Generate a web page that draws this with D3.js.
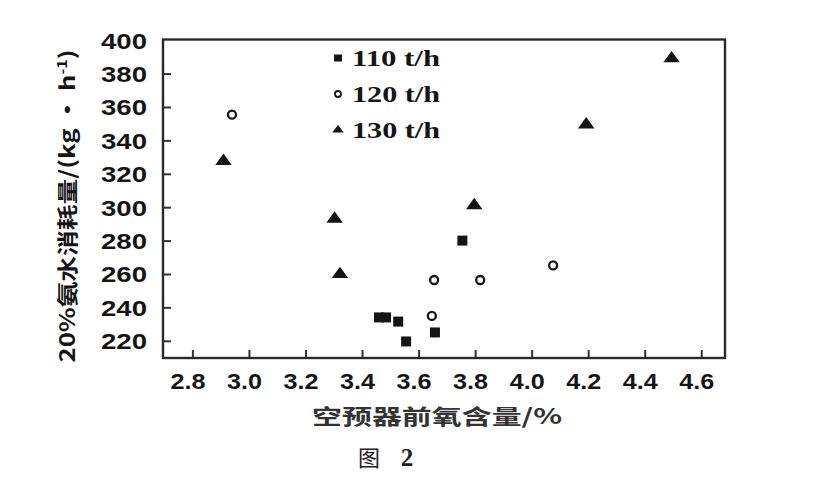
<!DOCTYPE html>
<html>
<head>
<meta charset="utf-8">
<script src="https://cdn.jsdelivr.net/npm/d3@7/dist/d3.min.js"></script>
<style>
  html, body { margin: 0; padding: 0; background: #fff; }
  svg { display: block; }
</style>
</head>
<body>
<svg id="chart" width="826" height="487"></svg>
<script>
// ---- data ----
const xTicks = [2.8, 3.0, 3.2, 3.4, 3.6, 3.8, 4.0, 4.2, 4.4, 4.6];
const yTicks = [220, 240, 260, 280, 300, 320, 340, 360, 380, 400];
const seriesNames = ["110 t/h", "120 t/h", "130 t/h"];
const s110x = [3.46, 3.485, 3.528, 3.556, 3.658, 3.755];
const s110y = [234, 234, 231.5, 219.6, 225, 280];
const s120x = [2.94, 3.647, 3.655, 3.818, 4.076];
const s120y = [355.4, 234.9, 256.4, 256.4, 265.1];
const s130x = [2.91, 3.303, 3.322, 3.797, 4.193, 4.495];
const s130y = [327.6, 293, 259.8, 301.1, 349.4, 389];
const xTitle = "空预器前氧含量/%";
const yTitleMain = "20%氨水消耗量/(kg • h";
const caption = "图";
const captionNum = "2";

// ---- layout ----
const svg = d3.select("#chart");
const L = 163, R = 725, T = 39.5, B = 358;
const x = d3.scaleLinear().domain([2.696, 4.684]).range([L, R]);
const y = d3.scaleLinear().domain([209.7, 400.4]).range([B, T]);
const ink = "#151515";

// axes
const gx = svg.append("g").attr("transform", `translate(0,${B})`)
  .call(d3.axisBottom(x).tickValues(xTicks).tickFormat(d3.format(".1f"))
    .tickSizeInner(-8).tickSizeOuter(0).tickPadding(13));
const gy = svg.append("g").attr("transform", `translate(${L},0)`)
  .call(d3.axisLeft(y).tickValues(yTicks).tickFormat(d3.format("d"))
    .tickSizeInner(-8).tickSizeOuter(0).tickPadding(16));
[gx, gy].forEach(g => {
  g.select(".domain").remove();
  g.selectAll(".tick line").attr("stroke", "#333").attr("stroke-width", 2);
  g.selectAll(".tick text")
    .attr("fill", ink)
    .style("font-family", "'Liberation Sans', Arial, sans-serif")
    .style("font-weight", "bold")
    .style("font-size", "22px");
});
gx.selectAll(".tick text").attr("textLength", 35).attr("lengthAdjust", "spacingAndGlyphs")
  .attr("dy", "0.8em").attr("dx", -5);
gy.selectAll(".tick text").attr("textLength", 46).attr("lengthAdjust", "spacingAndGlyphs").attr("dy", "0.36em");
gy.selectAll(".tick").filter(d => d === 400).select("line").remove();

// frame
svg.append("rect").attr("x", L).attr("y", T).attr("width", R - L).attr("height", B - T)
  .attr("fill", "none").attr("stroke", "#2a2a2a").attr("stroke-width", 2.4);

// markers
const sq = d3.symbol().type(d3.symbolSquare).size(100);
const tri = d3.symbol().type(d3.symbolTriangle).size(75);
const pts = svg.append("g");
pts.selectAll(".s110").data(d3.zip(s110x, s110y)).join("path")
  .attr("d", sq).attr("transform", d => `translate(${x(d[0])},${y(d[1])})`).attr("fill", ink);
pts.selectAll(".s120").data(d3.zip(s120x, s120y)).join("circle")
  .attr("cx", d => x(d[0])).attr("cy", d => y(d[1])).attr("r", 4)
  .attr("fill", "none").attr("stroke", ink).attr("stroke-width", 2.3);
pts.selectAll(".s130").data(d3.zip(s130x, s130y)).join("path")
  .attr("d", tri).attr("transform", d => `translate(${x(d[0])},${y(d[1])}) scale(1.25,1)`).attr("fill", ink);

// legend
const leg = svg.append("g");
const legY = [58, 94, 130];
seriesNames.forEach((name, i) => {
  const cy = legY[i];
  if (i === 0) leg.append("rect").attr("x", 334).attr("y", cy - 3.5).attr("width", 8).attr("height", 7).attr("fill", ink);
  if (i === 1) leg.append("circle").attr("cx", 338).attr("cy", cy).attr("r", 3).attr("fill", "none").attr("stroke", ink).attr("stroke-width", 1.8);
  if (i === 2) leg.append("path").attr("d", d3.symbol().type(d3.symbolTriangle).size(34)).attr("transform", `translate(338,${cy}) scale(1.3,1)`).attr("fill", ink);
  leg.append("text").attr("x", 352).attr("y", cy + 8).text(name)
    .attr("fill", ink)
    .attr("textLength", 88).attr("lengthAdjust", "spacingAndGlyphs")
    .style("font-family", "'Liberation Serif', 'Times New Roman', serif")
    .style("font-weight", "bold")
    .style("font-size", "24px");
});

// x title
svg.append("text").attr("x", 437).attr("y", 424).attr("text-anchor", "middle")
  .text(xTitle).attr("fill", "#333")
  .attr("textLength", 250).attr("lengthAdjust", "spacingAndGlyphs")
  .style("font-family", "'Noto Sans CJK SC', sans-serif").style("font-weight", "bold").style("font-size", "21px");

// y title
const yt = svg.append("text").attr("transform", "translate(75,206) rotate(-90)")
  .attr("text-anchor", "middle").attr("fill", ink)
  .attr("textLength", 313).attr("lengthAdjust", "spacingAndGlyphs")
  .style("font-family", "'Noto Sans CJK SC', sans-serif").style("font-weight", "bold").style("font-size", "21px");
yt.append("tspan").text(yTitleMain);
yt.append("tspan").attr("dy", -8).style("font-size", "13px").text("-1");
yt.append("tspan").attr("dy", 8).text(")");

// caption
svg.append("text").attr("x", 369).attr("y", 466).attr("text-anchor", "middle").text(caption)
  .attr("fill", "#222")
  .style("font-family", "'Noto Sans CJK SC', sans-serif").style("font-size", "22px");
svg.append("text").attr("x", 407).attr("y", 466).attr("text-anchor", "middle").text(captionNum)
  .attr("fill", "#222")
  .style("font-family", "'Liberation Serif', serif").style("font-weight", "bold").style("font-size", "25px");
</script>
</body>
</html>
